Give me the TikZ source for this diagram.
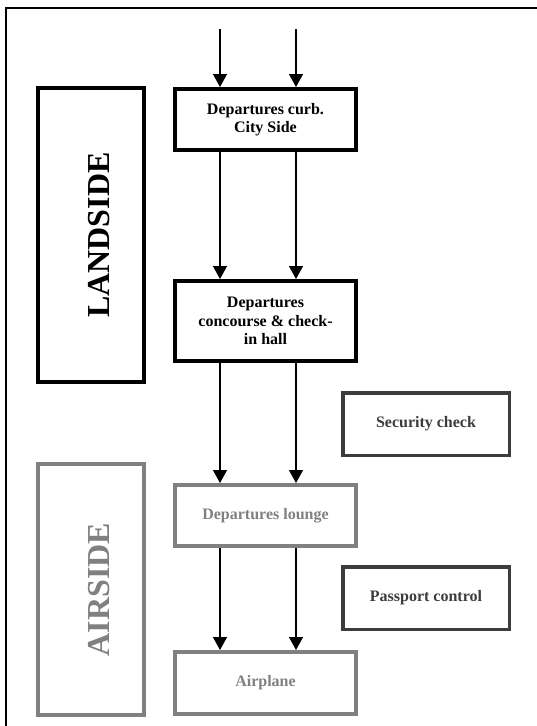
\documentclass[tikz,border=0pt]{standalone}
\usepackage{fontspec}
\setmainfont{Liberation Serif}
\usetikzlibrary{positioning,arrows.meta}
\definecolor{airgray}{HTML}{808080}
\definecolor{checkgray}{HTML}{3C3C3C}
\tikzset{zone box/.style={rectangle,draw,line width=4pt,minimum width=106pt,inner sep=0pt},
zone text/.style={rotate=90,inner sep=0pt,font=\fontsize{32}{36}\selectfont\bfseries},
area box/.style={rectangle,draw,line width=4pt,minimum width=181pt,minimum height=61pt,inner sep=0pt,align=center,font=\fontsize{16}{18.5}\selectfont\bfseries},
check box/.style={rectangle,draw=checkgray,text=checkgray,line width=3.5pt,minimum width=166.5pt,minimum height=62.5pt,inner sep=0pt,font=\fontsize{16}{18.5}\selectfont\bfseries},
flow/.style={-{Triangle[width=14pt,length=13pt]},line width=1.3pt},
}

\begin{document}
\begin{tikzpicture}[x=1pt,y=-1pt]
				\useasboundingbox (0,0) rectangle (537,726);
				\draw[line width=1.5pt] (537,8) -- (6,8) -- (6,726);
				
				\node[zone box,minimum height=294pt] (land) at (91,235) {};
				\node[zone text] (landtxt) at ([xshift=8pt]land.center) {LANDSIDE};
				\node[zone box,draw=airgray,minimum height=251pt] (air) at (91,589.5) {};
				\node[zone text,text=airgray] (airtxt) at ([xshift=8pt]air.center) {AIRSIDE};
				
				\node[area box] (curb) at (265.5,119.5) {Departures curb.\\City Side};
				\node[area box,minimum height=80pt] (hall) at (265.5,321) {Departures\\concourse \& check-\\in hall};
				\node[area box,draw=airgray,text=airgray] (lounge) at (265.5,515.5) {Departures lounge};
				\node[area box,draw=airgray,text=airgray,minimum height=62pt] (plane) at (265.5,683) {Airplane};
				
				\node[check box] (security) at (426,424) {Security check};
				\node[check box] (passport) at (426,598) {Passport control};
				
				\coordinate (in1) at (220,29);
				\coordinate (in2) at (296,29);
				
				\foreach \lane in {in1,in2}
				{
				\draw[flow] (\lane) -- (\lane |- curb.north);
				\draw[flow] (curb.south -| \lane) -- (hall.north -| \lane);
				\draw[flow] (hall.south -| \lane) -- (lounge.north -| \lane);
				\draw[flow] (lounge.south -| \lane) -- (plane.north -| \lane);
				}
				
			\end{tikzpicture}
\end{document}
